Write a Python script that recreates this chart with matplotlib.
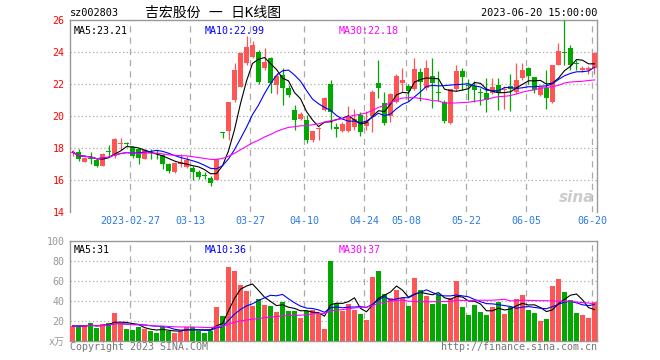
import numpy as np
import pandas as pd
import matplotlib
matplotlib.use('Agg')
from matplotlib import pyplot as plt

plt.rcParams['font.family'] = ['DejaVu Sans Mono', 'Noto Sans CJK SC']

# daily K-line, 2023-02-13 .. 2023-06-20 (88 trading days)
opens = [17.7, 17.75, 17.15, 17.4, 17.25, 16.88, 17.77, 17.5, 18.25, 18.3,
         18.06, 17.92, 17.33, 17.77, 17.7, 17.54, 16.98, 16.5, 17.0, 16.8,
         16.77, 16.5, 16.27, 16.1, 16.0, 18.98, 19.04, 21.0, 21.83, 23.3,
         23.67, 24.02, 23.02, 23.6, 21.94, 22.56, 21.73, 20.38, 19.79, 19.75,
         18.5, 19.2, 20.38, 22.0, 19.33, 19.07, 19.07, 19.3, 20.06, 19.35,
         20.0, 22.04, 20.79, 20.0, 20.9, 22.04, 21.9, 21.69, 22.77, 21.72,
         22.5, 21.52, 20.87, 19.54, 21.7, 22.81, 21.95, 21.88, 21.48, 21.46,
         21.42, 21.94, 21.6, 21.9, 21.52, 22.35, 22.98, 22.46, 21.31, 21.73,
         20.9, 23.19, 24.02, 24.23, 23.27, 22.9, 22.9, 22.98]
highs = [17.9, 17.92, 17.45, 17.75, 17.35, 17.7, 18.17, 18.65, 18.65, 18.38,
         18.1, 17.96, 17.92, 17.92, 17.9, 17.6, 17.08, 17.15, 17.6, 17.5,
         16.88, 16.65, 16.48, 16.25, 17.4, 19.0, 20.9, 23.3, 24.0, 25.0,
         24.7, 24.1, 24.23, 23.7, 22.67, 22.98, 21.94, 20.69, 20.27, 20.06,
         19.08, 19.33, 21.2, 22.25, 19.54, 19.6, 20.6, 20.42, 20.27, 20.3,
         21.6, 23.5, 21.5, 21.45, 22.6, 22.98, 22.0, 23.6, 22.98, 23.5,
         23.6, 22.8, 21.0, 21.7, 23.2, 23.0, 22.3, 22.2, 21.73, 22.35,
         22.35, 22.35, 21.85, 22.6, 23.29, 23.3, 23.05, 22.46, 21.83, 22.88,
         23.19, 24.58, 26.0, 24.44, 23.5, 23.1, 23.1, 24.02]
lows = [17.5, 17.2, 17.1, 16.98, 16.8, 16.85, 17.5, 17.4, 17.9, 18.1,
        17.4, 17.0, 17.29, 17.33, 17.33, 16.67, 16.46, 16.46, 16.8, 16.75,
        16.0, 16.05, 16.05, 15.63, 15.98, 18.65, 18.5, 20.9, 21.8, 23.2,
        23.6, 22.0, 22.9, 21.42, 21.4, 20.69, 21.2, 19.1, 19.75, 18.33,
        18.35, 18.5, 20.3, 19.2, 18.68, 19.0, 19.0, 19.1, 18.72, 19.1,
        19.0, 21.1, 19.45, 19.6, 20.8, 21.52, 20.94, 21.6, 20.94, 21.6,
        20.47, 20.96, 19.55, 19.5, 21.55, 21.6, 21.0, 20.9, 20.71, 20.27,
        21.35, 20.38, 20.44, 20.3, 21.4, 22.25, 22.0, 21.42, 21.25, 20.44,
        20.83, 23.19, 23.19, 22.88, 22.88, 22.75, 22.6, 22.65]
closes = [17.75, 17.3, 17.4, 17.33, 16.88, 17.6, 17.72, 18.54, 18.33, 18.25,
          17.5, 17.4, 17.88, 17.7, 17.62, 16.98, 16.56, 17.08, 17.1, 17.25,
          16.5, 16.19, 16.22, 15.8, 17.29, 18.94, 20.85, 22.85, 23.96, 24.33,
          24.44, 22.15, 23.4, 22.04, 22.5, 21.73, 21.31, 19.75, 20.12, 18.5,
          19.08, 19.25, 21.1, 20.27, 19.19, 19.5, 20.0, 19.8, 19.02, 19.6,
          21.5, 21.73, 19.54, 21.35, 22.5, 22.25, 21.56, 22.94, 22.15, 23.0,
          22.08, 21.46, 19.7, 21.68, 22.81, 22.46, 21.88, 21.63, 21.44, 21.0,
          21.79, 21.42, 21.65, 21.7, 22.25, 22.88, 22.52, 21.63, 21.83, 21.1,
          23.19, 24.08, 23.96, 23.19, 23.23, 22.98, 22.94, 23.96]
# volume, 万手
volumes = [15, 15, 15, 18, 13, 17, 18, 28, 18, 12, 11, 14, 12, 10, 8, 14, 10, 8, 10, 14,
           14, 10, 8, 10, 34, 25, 74, 70, 56, 50, 35, 42, 36, 35, 29, 39, 30, 30, 23, 30,
           31, 28, 12, 80, 38, 30, 37, 31, 27, 21, 64, 70, 47, 43, 51, 43, 35, 63, 51, 45,
           37, 46, 37, 43, 60, 34, 26, 36, 29, 26, 34, 39, 27, 34, 42, 46, 31, 28, 20, 22,
           55, 62, 49, 41, 28, 26, 23, 39]

tick_idx = [10, 20, 30, 39, 49, 56, 66, 76, 87]
tick_labels = ['2023-02-27', '03-13', '03-27', '04-10', '04-24', '05-08', '05-22', '06-05', '06-20']
price_ticks = [14, 16, 18, 20, 22, 24, 26]
vol_ticks = [0, 20, 40, 60, 80, 100]
vol_tick_labels = ['x万', '20', '40', '60', '80', '100']

df = pd.DataFrame({'o': opens, 'h': highs, 'l': lows, 'c': closes, 'v': volumes})
x = np.arange(len(df))
up = df.c >= df.o
RED = '#ff5555'
GREEN = '#00a800'
colors = np.where(up, RED, GREEN)

ma_c = {n: df.c.rolling(n, min_periods=1).mean() for n in (5, 10, 30)}
ma_v = {n: df.v.rolling(n, min_periods=1).mean() for n in (5, 10, 30)}
ma_col = {5: 'black', 10: '#0000ff', 30: '#ff00ff'}

fig = plt.figure(figsize=(6.6, 3.6), dpi=100)
W, H = 660.0, 360.0
ax = fig.add_axes([70 / W, 1 - 212 / H, 527 / W, 192 / H])
axv = fig.add_axes([70 / W, 1 - 341 / H, 527 / W, 100 / H])

# candles
ax.vlines(x, df.l, df.h, colors=colors, lw=0.9, zorder=3)
body = (df.c - df.o).abs().clip(lower=0.07)
ax.bar(x, body, bottom=np.minimum(df.o, df.c), width=0.8, color=colors, lw=0, zorder=4)
for n in (5, 10, 30):
    ax.plot(x, ma_c[n], color=ma_col[n], lw=0.8, zorder=5)

axv.bar(x, df.v, width=0.8, color=colors, lw=0, zorder=3)
for n in (5, 10, 30):
    axv.plot(x, ma_v[n], color=ma_col[n], lw=0.8, zorder=5)

grid_x = [i - 0.35 for i in tick_idx]
for a in (ax, axv):
    a.set_xlim(-0.42, 87.42)
    for gx in grid_x:
        a.axvline(gx, color='#aaaaaa', lw=0.9, ls=(0, (5, 4)), zorder=1)
    for s in a.spines.values():
        s.set_color('#999999')
        s.set_linewidth(1.0)
    a.tick_params(length=0, labelsize=7.2)

ax.set_ylim(14, 26)
ax.set_yticks(price_ticks)
ax.set_yticklabels([str(p) for p in price_ticks], color='red')
for p in price_ticks[1:-1]:
    ax.axhline(p, color='#aaaaaa', lw=0.9, ls=(0, (1, 2)), zorder=1)
ax.spines['bottom'].set_visible(False)
ax.set_xticks(grid_x)
ax.set_xticklabels(tick_labels, color='#2a7ae2')
ax.tick_params(axis='y', pad=4)
ax.tick_params(axis='x', pad=3)

axv.set_ylim(0, 100)
axv.set_yticks(vol_ticks)
axv.set_yticklabels(vol_tick_labels, color='#999999')
for v in vol_ticks[1:-1]:
    axv.axhline(v, color='#aaaaaa', lw=0.9, ls=(0, (1, 2)), zorder=1)
axv.set_xticks([])
axv.tick_params(axis='y', pad=4)

# legends
ax.text(0.006, 0.97, 'MA5:23.21', transform=ax.transAxes, color='black', fontsize=7.2, va='top')
ax.text(0.255, 0.97, 'MA10:22.99', transform=ax.transAxes, color='#0000ff', fontsize=7.2, va='top')
ax.text(0.51, 0.97, 'MA30:22.18', transform=ax.transAxes, color='#ff00ff', fontsize=7.2, va='top')
axv.text(0.006, 0.96, 'MA5:31', transform=axv.transAxes, color='black', fontsize=7.2, va='top')
axv.text(0.255, 0.96, 'MA10:36', transform=axv.transAxes, color='#0000ff', fontsize=7.2, va='top')
axv.text(0.51, 0.96, 'MA30:37', transform=axv.transAxes, color='#ff00ff', fontsize=7.2, va='top')

# header / footer
fig.text(70 / W, 1 - 13 / H, 'sz002803', fontsize=7.4, va='center', ha='left')
fig.text(213 / W, 1 - 13 / H, '吉宏股份 一 日K线图', fontsize=10, va='center', ha='center')
fig.text(597 / W, 1 - 13 / H, '2023-06-20 15:00:00', fontsize=7.4, va='center', ha='right')
fig.text(70 / W, 1 - 347 / H, 'Copyright 2023 SINA.COM', fontsize=7.2, va='center', ha='left', color='#777777')
fig.text(597 / W, 1 - 347 / H, 'http://finance.sina.com.cn', fontsize=7.2, va='center', ha='right', color='#777777')
ax.text(0.995, 0.035, 'sina', transform=ax.transAxes, fontsize=11, style='italic', weight='bold',
        color='#cccccc', ha='right', va='bottom', family='DejaVu Sans', zorder=2)

plt.savefig('out.png', dpi=100)
